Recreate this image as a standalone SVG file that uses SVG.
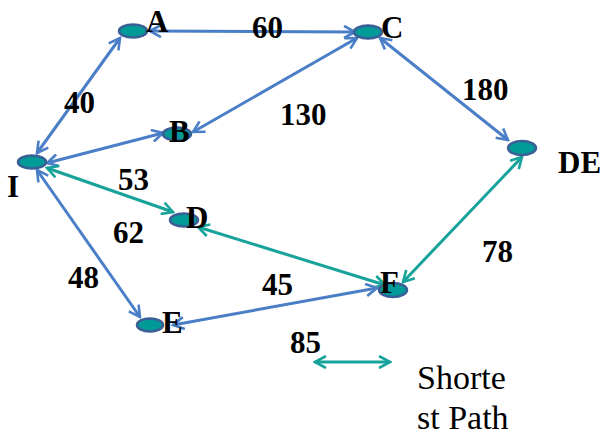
<svg xmlns="http://www.w3.org/2000/svg" width="611" height="437" viewBox="0 0 611 437">
<style>
.blue{stroke:#4a7ec6;stroke-width:3;fill:none}
.teal{stroke:#17a39b;stroke-width:3;fill:none}
.nd{fill:#009b98;stroke:#3a5f96;stroke-width:2.5}
.lb{font-family:'Liberation Serif','Times New Roman',Tinos,'DejaVu Serif',serif;font-weight:bold;font-size:31px;fill:#000}
.lg{font-family:'Liberation Serif','Times New Roman',Tinos,'DejaVu Serif',serif;font-size:34px;fill:#000}
</style>
<defs>
<marker id="ab" viewBox="0 0 14 14" refX="12" refY="7" markerWidth="14" markerHeight="14" markerUnits="userSpaceOnUse" orient="auto-start-reverse">
<path d="M1,1 L12,7 L1,13" fill="none" stroke="#4a7ec6" stroke-width="2.6"/>
</marker>
<marker id="at" viewBox="0 0 14 14" refX="12" refY="7" markerWidth="14" markerHeight="14" markerUnits="userSpaceOnUse" orient="auto-start-reverse">
<path d="M1,1 L12,7 L1,13" fill="none" stroke="#17a39b" stroke-width="2.6"/>
</marker>
</defs>
<g id="connectors">
<line class="blue" x1="150" y1="31" x2="355" y2="32" marker-start="url(#ab)" marker-end="url(#ab)"/>
<line class="blue" x1="37" y1="153" x2="120" y2="38" marker-start="url(#ab)" marker-end="url(#ab)"/>
<line class="blue" x1="47" y1="163" x2="163" y2="133" marker-start="url(#ab)" marker-end="url(#ab)"/>
<line class="blue" x1="193" y1="132" x2="357" y2="38" marker-start="url(#ab)" marker-end="url(#ab)"/>
<line class="blue" x1="380" y1="38" x2="508" y2="140" marker-start="url(#ab)" marker-end="url(#ab)"/>
<line class="teal" x1="47" y1="168" x2="173" y2="212" marker-start="url(#at)" marker-end="url(#at)"/>
<line class="teal" x1="198" y1="227" x2="385" y2="285" marker-start="url(#at)" marker-end="url(#at)"/>
<line class="teal" x1="522" y1="157" x2="403" y2="282" marker-start="url(#at)" marker-end="url(#at)"/>
<line class="blue" x1="37" y1="170" x2="140" y2="317" marker-start="url(#ab)" marker-end="url(#ab)"/>
<line class="blue" x1="173" y1="325" x2="377" y2="288" marker-start="url(#ab)" marker-end="url(#ab)"/>
</g>
<g id="node-A"><ellipse class="nd" cx="133" cy="31" rx="14" ry="6.5"/><text class="lb" x="146" y="32">A</text></g>
<g id="node-C"><ellipse class="nd" cx="368" cy="32" rx="14" ry="6.5"/><text class="lb" x="381" y="38">C</text></g>
<g id="node-B"><ellipse class="nd" cx="177" cy="134" rx="14" ry="6.5"/><text class="lb" x="169" y="142">B</text></g>
<g id="node-I"><ellipse class="nd" cx="32" cy="162" rx="14" ry="6.5"/><text class="lb" x="7" y="197">I</text></g>
<g id="node-DE"><ellipse class="nd" cx="522" cy="148" rx="14" ry="7"/><text class="lb" x="558" y="173">DE</text></g>
<g id="node-D"><ellipse class="nd" cx="184" cy="220" rx="14" ry="6.5"/><text class="lb" x="186" y="228">D</text></g>
<g id="node-E"><ellipse class="nd" cx="150" cy="325" rx="13" ry="6.5"/><text class="lb" x="162" y="333">E</text></g>
<g id="node-F"><ellipse class="nd" cx="393" cy="290" rx="14" ry="7"/><text class="lb" x="380" y="293">F</text></g>
<g id="weights">
<text class="lb" x="252" y="38">60</text>
<text class="lb" x="64" y="113">40</text>
<text class="lb" x="280" y="125">130</text>
<text class="lb" x="462" y="100">180</text>
<text class="lb" x="118" y="190">53</text>
<text class="lb" x="113" y="243">62</text>
<text class="lb" x="68" y="288">48</text>
<text class="lb" x="262" y="295">45</text>
<text class="lb" x="482" y="262">78</text>
<text class="lb" x="290" y="353">85</text>
</g>
<g id="legend">
<line class="teal" x1="315" y1="362" x2="390" y2="362" marker-start="url(#at)" marker-end="url(#at)"/>
<text class="lg" x="417" y="389">Shorte</text>
<text class="lg" x="417" y="429">st Path</text>
</g>
</svg>
